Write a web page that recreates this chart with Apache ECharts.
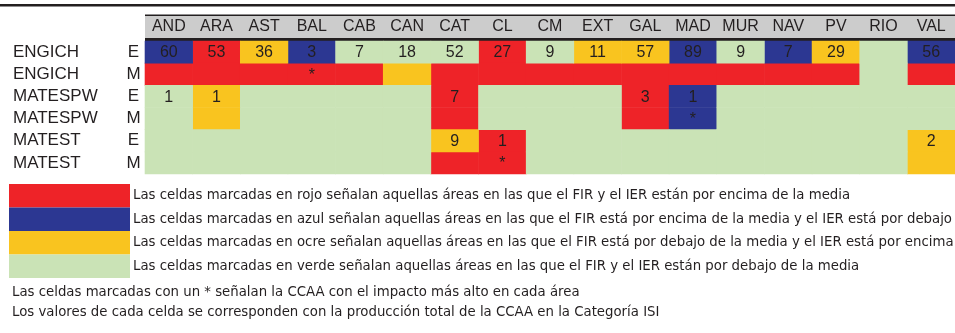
<!DOCTYPE html>
<html>
<head>
<meta charset="utf-8">
<script src="https://cdn.jsdelivr.net/npm/echarts@6/dist/echarts.min.js"></script>
<style>html,body{margin:0;padding:0;background:#fff}#c{width:955px;height:333px}</style>
</head>
<body>
<div id="c"></div>
<script>
var categories = ['AND','ARA','AST','BAL','CAB','CAN','CAT','CL','CM','EXT','GAL','MAD','MUR','NAV','PV','RIO','VAL'];
var rowNames = ['ENGICH','ENGICH','MATESPW','MATESPW','MATEST','MATEST'];
var rowTypes = ['E','M','E','M','E','M'];
// R = rojo, B = azul, O = ocre, G = verde
var cellColors = [
  ['B','R','O','B','G','G','G','R','G','O','O','B','G','B','O','G','B'],
  ['R','R','R','R','R','O','R','R','R','R','R','R','R','R','R','G','R'],
  ['G','O','G','G','G','G','R','G','G','G','R','B','G','G','G','G','G'],
  ['G','O','G','G','G','G','R','G','G','G','R','B','G','G','G','G','G'],
  ['G','G','G','G','G','G','O','R','G','G','G','G','G','G','G','G','O'],
  ['G','G','G','G','G','G','R','R','G','G','G','G','G','G','G','G','O']
];
var cellLabels = [
  ['60','53','36','3','7','18','52','27','9','11','57','89','9','7','29','','56'],
  ['','','','*','','','','','','','','','','','','',''],
  ['1','1','','','','','7','','','','3','1','','','','',''],
  ['','','','','','','','','','','','*','','','','',''],
  ['','','','','','','9','1','','','','','','','','','2'],
  ['','','','','','','','*','','','','','','','','','']
];
var groupCodes = ['R','B','O','G'];
var groupNames = [
  'Las celdas marcadas en rojo señalan aquellas áreas en las que el FIR y el IER están por encima de la media',
  'Las celdas marcadas en azul señalan aquellas áreas en las que el FIR está por encima de la media y el IER está por debajo',
  'Las celdas marcadas en ocre señalan aquellas áreas en las que el FIR está por debajo de la media y el IER está por encima',
  'Las celdas marcadas en verde señalan aquellas áreas en las que el FIR y el IER están por debajo de la media'
];
var notes = [
  'Las celdas marcadas con un * señalan la CCAA con el impacto más alto en cada área',
  'Los valores de cada celda se corresponden con la producción total de la CCAA en la Categoría ISI'
];
var palette = {R:'#EE2328', B:'#2C3792', O:'#F9C41F', G:'#CAE3B6'};
var textColor = '#231F20';
var FONT = 'Liberation Sans, Arial, Helvetica, sans-serif';
var FONT2 = 'DejaVu Sans, sans-serif';

var rowLabels = rowNames.map(function(n,i){ return n + '|' + rowTypes[i]; });

var series = groupCodes.map(function(code, gi){
  var data = [];
  for (var r = 0; r < cellColors.length; r++) {
    for (var c = 0; c < categories.length; c++) {
      if (cellColors[r][c] === code) data.push([c, r, cellLabels[r][c]]);
    }
  }
  return {
    type: 'custom',
    name: groupNames[gi],
    itemStyle: {color: palette[code]},
    data: data,
    encode: {x: 0, y: 1},
    renderItem: function(params, api){
      var p = api.coord([api.value(0), api.value(1)]);
      var s = api.size([1, 1]);
      var lbl = cellLabels[api.value(1)][api.value(0)];
      return {
        type: 'group',
        children: [
          {type: 'rect', shape: {x: p[0]-s[0]/2-0.3, y: p[1]-s[1]/2-0.3, width: s[0]+0.6, height: s[1]+0.6},
           style: {fill: palette[code]}},
          {type: 'text', style: {text: lbl, x: p[0], y: p[1]+1, align: 'center', verticalAlign: 'middle',
            fill: textColor, font: '16px ' + FONT}}
        ]
      };
    }
  };
});

var chart = echarts.init(document.getElementById('c'), null, {renderer: 'canvas'});
chart.setOption({
  animation: false,
  textStyle: {fontFamily: FONT},
  grid: {left: 145, right: 0, top: 41, bottom: 159},
  xAxis: {
    type: 'category', data: categories, position: 'top',
    axisLine: {show: false}, axisTick: {show: false}, splitLine: {show: false},
    axisLabel: {fontSize: 16, color: textColor, margin: 6, fontFamily: FONT}
  },
  yAxis: {
    type: 'category', data: rowLabels, inverse: true,
    axisLine: {show: false}, axisTick: {show: false}, splitLine: {show: false},
    axisLabel: {
      margin: 4, fontFamily: FONT,
      formatter: function(v){ var p = v.split('|'); return '{a|' + p[0] + '}{b|' + p[1] + '}'; },
      rich: {
        a: {width: 113, align: 'left', fontSize: 17, color: textColor, fontFamily: FONT},
        b: {width: 15, align: 'center', fontSize: 17, color: textColor, fontFamily: FONT}
      }
    }
  },
  legend: {
    orient: 'vertical', left: 9, top: 184, padding: 0, itemGap: 0,
    itemWidth: 121, itemHeight: 23.5, icon: 'rect',
    selectedMode: false,
    textStyle: {fontSize: 13.3, color: textColor, fontFamily: FONT2, padding: [0,0,0,-2]},
    data: groupNames
  },
  title: {
    text: notes.join('\n'), left: 7, top: 278,
    textStyle: {fontSize: 13.3, fontWeight: 'normal', color: textColor, lineHeight: 20, fontFamily: FONT2}
  },
  graphic: [
    {type: 'rect', shape: {x: 0, y: 4, width: 955, height: 2.5}, style: {fill: textColor}},
    {type: 'rect', shape: {x: 145, y: 16, width: 810, height: 22}, style: {fill: '#CCCCCC'}, z: -1},
    {type: 'rect', shape: {x: 145, y: 14.5, width: 810, height: 1.5}, style: {fill: textColor}},
    {type: 'rect', shape: {x: 145, y: 38, width: 810, height: 3}, style: {fill: textColor}}
  ],
  series: series
});
</script>
</body>
</html>
